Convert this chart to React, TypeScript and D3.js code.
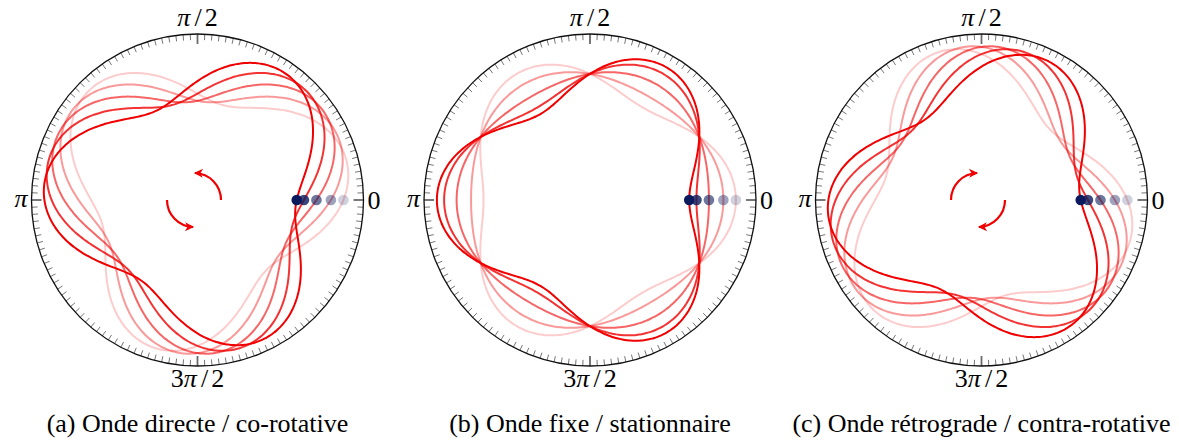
import React from "react";
import * as d3 from "d3";

// ---- data ----
const CAPTIONS = [
  "(a) Onde directe / co-rotative",
  "(b) Onde fixe / stationnaire",
  "(c) Onde rétrograde / contra-rotative",
];
const WAVE_KINDS = ["direct", "standing", "retrograde"];
// time snapshots: phase (deg) of the wave for each curve, lightest -> darkest
const PHASES_DEG = [45, 75, 105, 135, 165];
const OPACITIES = [0.2, 0.4, 0.6, 0.8, 1];
const MEAN_RADIUS = 0.76; // normalised radius of the undeformed ring
const AMPLITUDE = 0.168; // deformation amplitude
const MODE = 3; // nodal diameters
const AXIS_LABELS = [
  { angle: 0, parts: ["0"] },
  { angle: 90, parts: ["π", "/", "2"] },
  { angle: 180, parts: ["π"] },
  { angle: 270, parts: ["3", "π", "/", "2"] },
];
const MINOR_STEP_DEG = 2.5;
const MAJOR_STEP_DEG = 90;

// ---- layout ----
const W = 1179;
const H = 444;
const CENTERS_X = [197.5, 590, 981.5];
const CY = 200;
const R = 166;
const RED = "#f00000";
const NAVY = "#0b1a5c";
const FONT = "'Liberation Serif', 'Times New Roman', serif";

const toRad = (d: number) => (d * Math.PI) / 180;

function radiusAt(kind: string, theta: number, phaseDeg: number) {
  const p = toRad(phaseDeg);
  if (kind === "direct") return MEAN_RADIUS + AMPLITUDE * Math.cos(MODE * theta - p);
  if (kind === "retrograde") return MEAN_RADIUS + AMPLITUDE * Math.cos(MODE * theta + p);
  return MEAN_RADIUS + AMPLITUDE * Math.cos(MODE * theta) * Math.cos(p);
}

function Panel({ idx }: { idx: number }) {
  const cx = CENTERS_X[idx];
  const kind = WAVE_KINDS[idx];
  const rScale = d3.scaleLinear().domain([0, 1]).range([0, R]);
  const thetaGrid = d3.range(0, 360, 1).map(toRad);

  const line = d3
    .lineRadial<number>()
    .angle((t) => Math.PI / 2 - t)
    .curve(d3.curveCardinalClosed);

  const ticks = d3.range(0, 360, MINOR_STEP_DEG);

  const arrowPaths: string[] = [];
  if (kind !== "standing") {
    const ax = cx - 3.5;
    const ar = 27;
    const span = toRad(88);
    if (kind === "direct") {
      const p1 = d3.path();
      p1.arc(ax, CY, ar, 0, -span, true);
      const p2 = d3.path();
      p2.arc(ax, CY, ar, -Math.PI, -Math.PI - span, true);
      arrowPaths.push(p1.toString(), p2.toString());
    } else {
      const p1 = d3.path();
      p1.arc(ax, CY, ar, -Math.PI, -Math.PI + span, false);
      const p2 = d3.path();
      p2.arc(ax, CY, ar, 0, span, false);
      arrowPaths.push(p1.toString(), p2.toString());
    }
  }

  return (
    <g>
      {/* curves */}
      <g transform={`translate(${cx},${CY})`}>
        {PHASES_DEG.map((ph, k) => (
          <path
            key={k}
            d={line.radius((t) => rScale(radiusAt(kind, t, ph)))(thetaGrid) || ""}
            fill="none"
            stroke={RED}
            strokeOpacity={OPACITIES[k]}
            strokeWidth={2}
          />
        ))}
        {/* dots at theta = 0 */}
        {PHASES_DEG.map((ph, k) => (
          <circle
            key={"d" + k}
            cx={rScale(radiusAt(kind, 0, ph))}
            cy={0}
            r={5.3}
            fill={NAVY}
            fillOpacity={OPACITIES[k]}
          />
        ))}
        {/* ticks */}
        {ticks.map((d) => {
          const major = d % MAJOR_STEP_DEG === 0;
          const len = major ? 10 : 6;
          const t = toRad(d);
          return (
            <line
              key={"t" + d}
              x1={R * Math.cos(t)}
              y1={-R * Math.sin(t)}
              x2={(R - len) * Math.cos(t)}
              y2={-(R - len) * Math.sin(t)}
              stroke={major ? "#6a6a6a" : "#777"}
              strokeWidth={major ? 1.8 : 1}
            />
          );
        })}
        <circle cx={0} cy={0} r={R} fill="none" stroke="#111" strokeWidth={1.3} />
      </g>

      {/* rotation arrows */}
      {arrowPaths.map((d, i) => (
        <path
          key={"a" + i}
          d={d}
          fill="none"
          stroke={RED}
          strokeWidth={2.2}
          markerEnd="url(#arrowhead)"
        />
      ))}

      {/* angle labels */}
      {AXIS_LABELS.map((lab) => {
        let x = cx;
        let y = CY;
        let anchor: "start" | "middle" | "end" = "middle";
        if (lab.angle === 0) {
          x = cx + R + 4;
          y = CY + 9;
          anchor = "start";
        } else if (lab.angle === 90) {
          y = CY - R - 8;
        } else if (lab.angle === 180) {
          x = cx - R - 4;
          y = CY + 7;
          anchor = "end";
        } else {
          y = CY + R + 21;
        }
        return (
          <text
            key={"l" + lab.angle}
            x={x}
            y={y}
            textAnchor={anchor}
            fontFamily={FONT}
            fontSize={26}
            fill="#000"
          >
            {lab.parts.map((p, i) => (
              <tspan
                key={i}
                fontStyle={p === "π" ? "italic" : "normal"}
                dx={p === "/" ? 4 : p === "2" && lab.parts.length > 1 ? 3 : 0}
              >
                {p}
              </tspan>
            ))}
          </text>
        );
      })}

      {/* caption */}
      <text
        x={cx}
        y={432}
        textAnchor="middle"
        fontFamily={FONT}
        fontSize={26}
        fill="#000"
      >
        {CAPTIONS[idx]}
      </text>
    </g>
  );
}

export default function App() {
  return (
    <svg
      width={W}
      height={H}
      viewBox={`0 0 ${W} ${H}`}
      style={{ position: "absolute", left: 0, top: 0, background: "#fff" }}
    >
      <defs>
        <marker
          id="arrowhead"
          viewBox="-10 -6 12 12"
          refX={0}
          refY={0}
          markerWidth={12}
          markerHeight={12}
          markerUnits="userSpaceOnUse"
          orient="auto"
        >
          <path d="M1,0 L-8,-4.5 L-5.5,0 L-8,4.5 Z" fill={RED} />
        </marker>
      </defs>
      {[0, 1, 2].map((i) => (
        <Panel key={i} idx={i} />
      ))}
    </svg>
  );
}
